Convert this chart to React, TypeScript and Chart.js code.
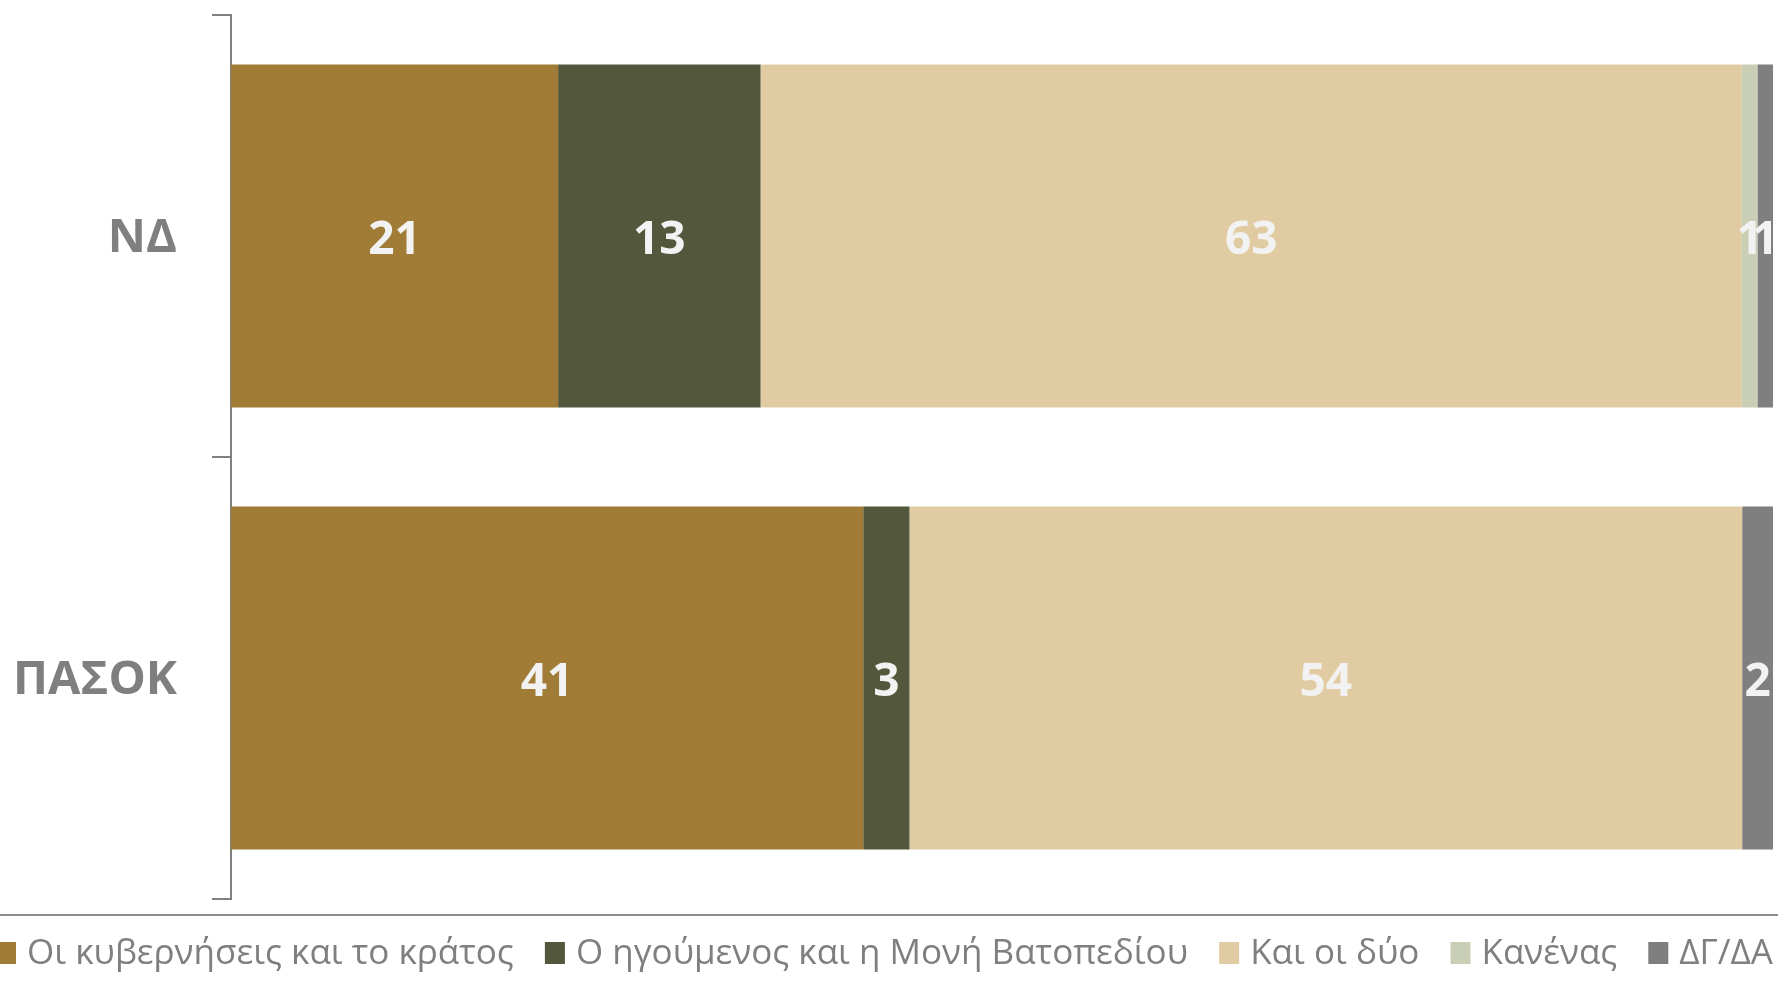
import React, { useEffect, useRef } from "react";
import { Chart, registerables } from "chart.js";

Chart.register(...registerables);

const categories = ["ΝΔ", "ΠΑΣΟΚ"];
const seriesNames = [
  "Οι κυβερνήσεις και το κράτος",
  "Ο ηγούμενος και η Μονή Βατοπεδίου",
  "Και οι δύο",
  "Κανένας",
  "ΔΓ/ΔΑ",
];
// Values as labelled (percent of respondents)
const governments = [21, 41];
const abbot = [13, 3];
const both = [63, 54];
const neither = [1, 0];
const dkna = [1, 2];
const seriesColors = ["#A07C37", "#53583C", "#E1CBA2", "#C9CFB5", "#7F7F7F"];

const W = 1778;
const H = 986;

const dataLabels = {
  id: "dataLabels",
  afterDatasetsDraw(chart: any) {
    const ctx = chart.ctx;
    ctx.save();
    ctx.font = "bold 46px 'Open Sans'";
    ctx.fillStyle = "#F2F2F2";
    ctx.textAlign = "center";
    ctx.textBaseline = "middle";
    chart.data.datasets.forEach((ds: any, i: number) => {
      const meta = chart.getDatasetMeta(i);
      meta.data.forEach((el: any, j: number) => {
        const v = ds.raw[j];
        if (!v) return;
        const p = el.getCenterPoint();
        ctx.fillText(String(v), p.x, p.y + 5);
      });
    });
    ctx.restore();
  },
};

// Horizontal rule under the plot plus a full-width legend row
const bottomLegend = {
  id: "bottomLegend",
  afterDraw(chart: any) {
    const ctx = chart.ctx;
    const ruleY = chart.chartArea.bottom + 16;
    ctx.save();
    ctx.strokeStyle = "#8C8C8C";
    ctx.lineWidth = 2;
    ctx.beginPath();
    ctx.moveTo(0, ruleY);
    ctx.lineTo(chart.width, ruleY);
    ctx.stroke();

    ctx.font = "35px 'Open Sans'";
    const boxW = 20;
    const boxH = 22;
    const gap = 11;
    const left = -4;
    const right = chart.width - 5;
    const cy = ruleY + 38;
    const items = chart.data.datasets.map((ds: any) => ({
      text: ds.label,
      color: ds.backgroundColor,
      w: boxW + gap + ctx.measureText(ds.label).width,
    }));
    const total = items.reduce((s: number, it: any) => s + it.w, 0);
    const space = (right - left - total) / (items.length - 1);
    let x = left;
    ctx.textBaseline = "middle";
    ctx.textAlign = "left";
    items.forEach((it: any) => {
      ctx.fillStyle = it.color;
      ctx.fillRect(x, cy - boxH / 2, boxW, boxH);
      ctx.fillStyle = "#7F7F7F";
      ctx.fillText(it.text, x + boxW + gap, cy + 1);
      x += it.w + space;
    });
    ctx.restore();
  },
};

export default function App() {
  const ref = useRef<HTMLCanvasElement | null>(null);
  useEffect(() => {
    if (!ref.current) return;
    const series = [governments, abbot, both, neither, dkna];
    // 100% stacked: each category's segments are shares of its total
    const totals = categories.map((_, j) => series.reduce((s, d) => s + d[j], 0));
    const chart = new Chart(ref.current, {
      type: "bar",
      data: {
        labels: categories,
        datasets: series.map((d, i) => ({
          label: seriesNames[i],
          data: d.map((v, j) => (v / totals[j]) * 100),
          raw: d,
          backgroundColor: seriesColors[i],
          borderWidth: 0,
          barPercentage: 0.776,
          categoryPercentage: 1,
        })) as any,
      },
      options: {
        indexAxis: "y",
        animation: false,
        responsive: false,
        maintainAspectRatio: false,
        layout: { padding: { top: 15, right: 5, left: 0, bottom: 87 } },
        scales: {
          x: {
            stacked: true,
            display: false,
            min: 0,
            max: 100,
          },
          y: {
            stacked: true,
            afterFit: (scale: any) => {
              scale.width = 231;
              scale.paddingTop = 0;
              scale.paddingBottom = 0;
            },
            grid: {
              display: true,
              drawOnChartArea: false,
              offset: true,
              tickLength: 19,
              color: "#808080",
              lineWidth: 2,
            },
            border: { display: true, color: "#808080", width: 2 },
            ticks: {
              padding: 35,
              labelOffset: 3,
              color: "#7F7F7F",
              font: { family: "'Open Sans'", size: 47, weight: "bold" },
            },
          },
        },
        plugins: {
          tooltip: { enabled: false },
          legend: { display: false },
        },
      },
      plugins: [dataLabels, bottomLegend],
    });
    return () => chart.destroy();
  }, []);
  return (
    <div style={{ position: "absolute", left: 0, top: 0, width: W, height: H, background: "#fff" }}>
      <canvas ref={ref} width={W} height={H} style={{ width: W, height: H, display: "block" }} />
    </div>
  );
}
